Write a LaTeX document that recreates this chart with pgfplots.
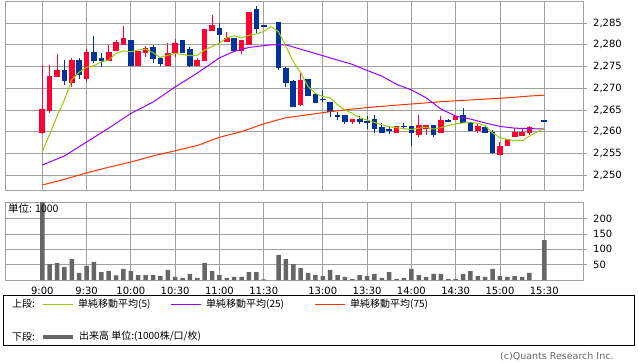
\documentclass[border=0pt]{standalone}
\usepackage{pgfplots}
\pgfplotsset{compat=1.18}
\usepackage{pgfplotstable}
\usepackage{fontspec}
\setmainfont{DejaVu Sans}
\newfontfamily\jp{Noto Sans CJK JP}
\definecolor{upc}{RGB}{255,0,51}
\definecolor{dnc}{RGB}{0,51,153}
\definecolor{ma5c}{RGB}{153,204,0}
\definecolor{ma25c}{RGB}{153,0,255}
\definecolor{ma75c}{RGB}{255,51,0}
\definecolor{volc}{RGB}{102,102,102}
\definecolor{gridc}{RGB}{160,160,160}

\pgfplotstableread{
k o h l c
0 2259.8 2275.4 2259.4 2265.0
1 2264.8 2275.4 2264.4 2272.8
2 2272.7 2277.9 2272.7 2274.1
4 2271.3 2276.9 2270.4 2276.5
6 2272.2 2279.0 2271.5 2278.3
9 2276.4 2280.0 2276.2 2278.3
10 2278.8 2281.0 2278.7 2280.5
11 2280.2 2284.4 2280.2 2281.4
13 2275.2 2278.5 2275.2 2278.5
14 2278.2 2279.8 2277.3 2279.2
17 2275.2 2280.4 2275.2 2277.9
18 2278.2 2281.3 2277.3 2280.4
21 2275.2 2276.9 2275.2 2276.5
22 2276.4 2283.5 2276.4 2283.5
23 2283.3 2286.9 2283.3 2284.5
25 2280.8 2282.9 2280.8 2281.4
27 2278.8 2280.9 2277.8 2280.9
28 2280.2 2287.5 2280.2 2287.5
35 2266.2 2273.6 2265.8 2271.9
42 2262.3 2262.9 2261.8 2262.9
48 2259.8 2261.3 2259.8 2261.3
51 2259.4 2263.8 2258.8 2261.3
52 2260.8 2261.3 2259.2 2261.3
54 2259.8 2263.5 2259.8 2262.5
56 2262.8 2263.5 2262.8 2263.5
59 2260.2 2261.9 2259.8 2261.3
62 2254.8 2257.5 2254.8 2256.5
63 2256.8 2258.2 2256.8 2258.2
64 2258.8 2260.8 2258.8 2259.8
65 2259.2 2260.8 2259.2 2259.8
66 2259.8 2261.3 2259.2 2260.9
}\upc

\pgfplotstableread{
k o h l c
3 2274.1 2276.5 2270.8 2271.8
5 2276.5 2276.9 2272.2 2273.1
7 2278.3 2282.1 2275.8 2276.4
8 2276.9 2278.1 2274.8 2276.4
12 2280.9 2280.9 2275.2 2275.2
15 2279.5 2280.0 2275.8 2276.8
16 2276.9 2276.9 2275.2 2275.8
19 2280.9 2280.9 2278.2 2278.2
20 2279.0 2279.5 2274.8 2275.2
24 2283.8 2285.0 2280.5 2282.3
26 2281.4 2281.4 2278.8 2278.8
29 2288.1 2289.0 2282.8 2283.8
30 2284.4 2284.4 2284.4 2284.4
32 2285.2 2285.2 2274.2 2274.8
33 2274.5 2275.0 2270.4 2271.3
34 2271.5 2271.9 2265.8 2265.8
36 2271.9 2271.9 2268.3 2268.3
37 2268.5 2268.7 2266.8 2266.8
38 2267.5 2269.5 2266.8 2267.5
39 2266.8 2266.8 2263.3 2264.6
40 2263.7 2264.5 2262.7 2263.7
41 2263.8 2263.8 2261.8 2262.3
43 2262.9 2263.5 2261.8 2262.3
44 2262.3 2263.5 2260.6 2262.3
45 2262.9 2263.8 2259.8 2260.8
46 2260.9 2261.9 2259.8 2259.8
47 2260.4 2261.2 2259.4 2260.4
49 2261.3 2261.9 2260.8 2261.3
50 2261.3 2261.3 2256.8 2259.8
53 2261.3 2261.3 2258.8 2259.4
55 2262.5 2262.9 2262.5 2262.5
57 2263.8 2265.4 2262.1 2262.1
58 2262.1 2262.1 2260.2 2260.2
60 2260.9 2261.2 2259.8 2259.8
61 2259.8 2260.4 2254.8 2255.2
68 2262.5 2262.5 2262.5 2262.5
}\dnc

\pgfplotstableread{
k v
0 2255.4
1 2259.4
2 2263.6
3 2267.3
4 2272.0
5 2273.7
6 2274.8
7 2275.2
8 2276.1
9 2276.5
10 2278.0
11 2278.6
12 2278.4
13 2278.8
14 2279.0
15 2278.2
16 2277.1
17 2277.6
18 2278.0
19 2277.8
20 2277.5
21 2277.6
22 2278.8
23 2279.6
24 2280.4
25 2281.6
26 2282.1
27 2281.6
28 2282.2
29 2282.5
30 2283.1
31 2284.2
32 2283.0
33 2279.7
34 2276.1
35 2273.6
36 2270.4
37 2268.8
38 2268.1
39 2267.8
40 2266.2
41 2265.0
42 2264.2
43 2263.2
44 2262.7
45 2262.1
46 2261.6
47 2261.1
48 2260.9
49 2260.7
50 2260.5
51 2260.8
52 2261.0
53 2260.6
54 2260.9
55 2261.4
56 2261.8
57 2262.0
58 2262.2
59 2261.9
60 2261.4
61 2259.7
62 2258.6
63 2258.2
64 2257.9
65 2257.9
66 2259.0
67 2259.9
68 2260.8
}\mafive

\pgfplotstableread{
k v
0 2252.3
3 2254.4
6 2257.6
9 2260.8
12 2264.2
15 2266.8
18 2270.3
21 2273.5
24 2277.0
26 2278.5
28 2279.4
31 2280.0
33 2280.0
35 2279.0
38 2277.5
40 2276.5
42 2275.5
44 2274.1
46 2272.8
48 2270.9
50 2269.6
52 2267.8
54 2265.2
56 2263.6
58 2262.9
60 2262.0
62 2261.2
64 2260.8
68 2260.6
}\matwentyfive

\pgfplotstableread{
k v
0 2247.7
3 2249.0
6 2250.5
9 2251.8
12 2253.0
15 2254.4
18 2255.6
21 2256.8
24 2258.7
27 2260.0
30 2261.8
33 2263.2
36 2263.9
39 2264.6
42 2265.2
45 2265.7
48 2266.1
51 2266.5
54 2266.9
57 2267.2
60 2267.5
63 2267.8
66 2268.2
68 2268.4
}\maseventyfive

\pgfplotstableread{
k v
0 300
1 52
2 55
3 42
4 68
5 23
6 46
7 59
8 26
9 29
10 15
11 36
12 29
13 16
14 16
15 16
16 13
17 33
18 10
19 7
20 20
21 7
22 55
23 29
24 16
25 7
26 10
27 10
28 26
29 26
30 2
32 82
33 68
34 52
35 39
36 23
37 16
38 13
39 33
40 16
41 10
42 3
43 16
44 13
45 20
46 7
47 26
48 3
49 7
50 36
51 16
52 10
53 20
54 20
55 3
56 3
57 20
58 29
59 13
60 10
61 36
62 13
63 10
64 13
65 10
66 23
68 130
}\volume

\pgfplotsset{
  common/.style={
    scale only axis, width=578pt,
    xmin=-5.05, xmax=73.25,
    xtick={0,6,12,18,24,30,38,44,50,56,62,68},
    xtick style={draw=none},
    ytick pos=right, yticklabel pos=right,
    tick align=outside, major tick length=4pt,
    ytick style={gridc, line width=0.8pt},
    grid=major, grid style={gridc, line width=0.8pt},
    axis line style={gridc, line width=0.8pt},
    tick label style={font=\fontsize{10}{12}\selectfont, text=black},
    yticklabel style={anchor=west, inner sep=0pt, xshift=6pt},
    /pgf/number format/.cd, 1000 sep={,}, assume math mode=true,
  },
  candle/.style={draw=none, mark=none, forget plot,
    error bars/.cd, y dir=both, y explicit, error mark=none,
    error bar style={solid, #1}},
}

\begin{document}
\begin{tikzpicture}
\useasboundingbox (0,0) rectangle (638pt,-362pt);
\begin{axis}[common, height=189pt, at={(5pt,-1pt)}, anchor=north west,
  ymin=2246.55, ymax=2290.1, ytick={2250,2255,...,2285}, xticklabels={}]
\addplot[candle={draw=upc, line width=1pt}]
  table[x=k, y expr={(\thisrow{h}+\thisrow{l})/2}, y error expr={(\thisrow{h}-\thisrow{l})/2}] {\upc};
\addplot[candle={draw=dnc, line width=1pt}]
  table[x=k, y expr={(\thisrow{h}+\thisrow{l})/2}, y error expr={(\thisrow{h}-\thisrow{l})/2}] {\dnc};
\addplot[candle={draw=upc, line width=5.6pt}]
  table[x=k, y expr={(\thisrow{o}+\thisrow{c})/2}, y error expr={abs(\thisrow{c}-\thisrow{o})/2+0.12}] {\upc};
\addplot[candle={draw=dnc, line width=5.6pt}]
  table[x=k, y expr={(\thisrow{o}+\thisrow{c})/2}, y error expr={abs(\thisrow{c}-\thisrow{o})/2+0.12}] {\dnc};
\addplot[ma75c, line width=1pt, mark=none] table[x=k, y=v] {\maseventyfive};
\addplot[ma25c, line width=1pt, mark=none] table[x=k, y=v] {\matwentyfive};
\addplot[ma5c, line width=1pt, mark=none] table[x=k, y=v] {\mafive};
\end{axis}

\begin{axis}[common, height=77.7pt, at={(5pt,-202.3pt)}, anchor=north west,
  ymin=0, ymax=253, ytick={50,100,150,200},
  xticklabels={9:00,9:30,10:00,10:30,11:00,11:30,13:00,13:30,14:00,14:30,15:00,15:30}]
\addplot[ybar, bar width=4.5pt, fill=volc, draw=none] table[x=k, y=v] {\volume};
\end{axis}

\node[anchor=west, inner sep=0pt] at (8pt,-209pt) {\jp\fontsize{10.5}{12}\selectfont 単位: 1000};

\draw[black, line width=0.8pt] (3.5pt,-295.5pt) rectangle (634.5pt,-345.5pt);
\begin{scope}[every node/.style={anchor=west, inner sep=0pt, font=\jp\fontsize{10}{12}\selectfont}]
\node at (12pt,-304pt) {上段:};
\draw[ma5c, line width=1pt] (43pt,-304pt) -- (73pt,-304pt);
\node at (78pt,-304pt) {単純移動平均(5)};
\draw[ma25c, line width=1pt] (171pt,-304pt) -- (201pt,-304pt);
\node at (206pt,-304pt) {単純移動平均(25)};
\draw[ma75c, line width=1pt] (315pt,-304pt) -- (345pt,-304pt);
\node at (350pt,-304pt) {単純移動平均(75)};
\node at (12pt,-336.5pt) {下段:};
\draw[volc, line width=4pt] (43pt,-336.5pt) -- (73pt,-336.5pt);
\node at (79pt,-336.5pt) {出来高 単位:(1000株/口/枚)};
\end{scope}
\node[anchor=base west, inner sep=0pt, text=volc, font=\fontsize{9.5}{11}\selectfont] at (500pt,-359pt) {(c)Quants Research Inc.};
\end{tikzpicture}
\end{document}
